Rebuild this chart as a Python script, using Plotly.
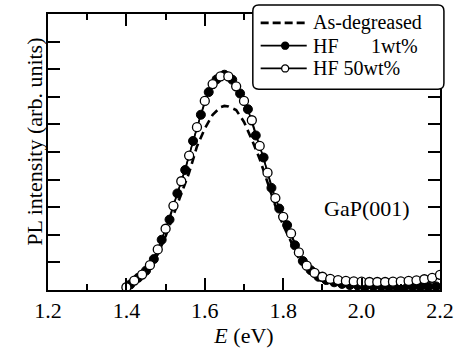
import plotly.graph_objects as go

# Energies (eV)
E_filled = [1.41, 1.43, 1.45, 1.47, 1.49, 1.51, 1.53, 1.55, 1.57, 1.59,
            1.61, 1.63, 1.65, 1.67, 1.69, 1.71, 1.73, 1.75, 1.77, 1.79,
            1.81, 1.83, 1.85, 1.87, 1.89, 1.91, 1.93, 1.95, 1.97, 1.99,
            2.01, 2.03, 2.05, 2.07, 2.09, 2.11, 2.13, 2.15, 2.17, 2.19]
HF_1wt = [0.20, 0.44, 0.70, 1.12, 1.82, 2.55, 3.50, 4.35, 5.40, 6.35,
          7.17, 7.63, 7.80, 7.62, 7.12, 6.55, 5.60, 4.80, 3.70, 2.95,
          2.35, 1.62, 1.05, 0.72, 0.48, 0.36, 0.28, 0.22, 0.18, 0.16,
          0.14, 0.13, 0.13, 0.12, 0.12, 0.12, 0.12, 0.12, 0.12, 0.13]

E_open = [1.40, 1.42, 1.44, 1.46, 1.48, 1.50, 1.52, 1.54, 1.56, 1.58,
          1.60, 1.62, 1.64, 1.66, 1.68, 1.70, 1.72, 1.74, 1.76, 1.78,
          1.80, 1.82, 1.84, 1.86, 1.88, 1.90, 1.92, 1.94, 1.96, 1.98,
          2.00, 2.02, 2.04, 2.06, 2.08, 2.10, 2.12, 2.14, 2.16, 2.18, 2.20]
HF_50wt = [0.10, 0.34, 0.56, 0.90, 1.47, 2.22, 3.05, 3.94, 4.87, 5.90,
           6.85, 7.46, 7.74, 7.74, 7.38, 6.85, 6.15, 5.22, 4.25, 3.33,
           2.65, 2.05, 1.36, 0.88, 0.62, 0.48, 0.40, 0.36, 0.33, 0.31,
           0.30, 0.29, 0.29, 0.29, 0.30, 0.31, 0.33, 0.35, 0.39, 0.44, 0.55]

E_asd = [1.40, 1.42, 1.44, 1.46, 1.48, 1.50, 1.52, 1.54, 1.56, 1.58,
         1.60, 1.62, 1.64, 1.65, 1.66, 1.68, 1.70, 1.72, 1.74, 1.76,
         1.78, 1.80, 1.82, 1.84, 1.86, 1.88, 1.90, 1.95, 2.00, 2.10, 2.20]
As_degreased = [0.10, 0.30, 0.50, 0.80, 1.30, 1.95, 2.70, 3.45, 4.25, 5.20,
                5.85, 6.35, 6.62, 6.67, 6.65, 6.52, 6.09, 5.45, 4.75, 3.90,
                3.05, 2.35, 1.75, 1.15, 0.75, 0.48, 0.33, 0.18, 0.12, 0.10, 0.10]

x_ticks = [1.2, 1.4, 1.6, 1.8, 2.0, 2.2]
x_ticklabels = ["1.2", "1.4", "1.6", "1.8", "2.0", "2.2"]
legend_names = ["As-degreased", "HF", "1wt%", "HF 50wt%"]

FONT = "Liberation Serif, Times New Roman, serif"
FS = 22
LFS = 20

W, H = 466, 351
ML, MR, MT, MB = 48, 18, 14, 58
PW, PH = W - ML - MR, H - MT - MB


def px(x):
    return (x - ML) / PW


def py(y):
    return (H - MB - y) / PH


fig = go.Figure()
fig.add_trace(go.Scatter(
    x=E_asd, y=As_degreased, mode="lines", name="As-degreased",
    line=dict(color="black", width=2.6, dash="8px,5px")))
fig.add_trace(go.Scatter(
    x=E_filled, y=HF_1wt, mode="lines+markers", name="HF 1wt%",
    line=dict(color="black", width=1.5),
    marker=dict(symbol="circle", size=9, color="black",
                line=dict(color="black", width=1))))
fig.add_trace(go.Scatter(
    x=E_open, y=HF_50wt, mode="lines+markers", name="HF 50wt%",
    line=dict(color="black", width=1.5),
    marker=dict(symbol="circle", size=9, color="white",
                line=dict(color="black", width=1.3))))

fig.add_annotation(x=2.015, y=2.97, text="GaP(001)", showarrow=False,
                   font=dict(family=FONT, size=FS, color="black"))

# y-axis title
fig.add_annotation(xref="paper", yref="paper", x=px(20), y=py(143),
                   text="PL intensity (arb. units)", textangle=-90, showarrow=False,
                   font=dict(family=FONT, size=FS, color="black"))

# ---- hand-made legend (rounded box) ----
bx0, bx1, by0, by1, r = 257, 452, 5, 90, 6
path = (f"M {px(bx0 + r)},{py(by0)} L {px(bx1 - r)},{py(by0)} "
        f"Q {px(bx1)},{py(by0)} {px(bx1)},{py(by0 + r)} "
        f"L {px(bx1)},{py(by1 - r)} Q {px(bx1)},{py(by1)} {px(bx1 - r)},{py(by1)} "
        f"L {px(bx0 + r)},{py(by1)} Q {px(bx0)},{py(by1)} {px(bx0)},{py(by1 - r)} "
        f"L {px(bx0)},{py(by0 + r)} Q {px(bx0)},{py(by0)} {px(bx0 + r)},{py(by0)} Z")
fig.add_shape(type="path", path=path, xref="paper", yref="paper",
              fillcolor="white", line=dict(color="black", width=1.5), layer="above")

rows = [23, 46, 69]
lx0, lx1, mx = 265, 312, 290
fig.add_shape(type="line", xref="paper", yref="paper", x0=px(lx0), x1=px(lx1),
              y0=py(rows[0]), y1=py(rows[0]), line=dict(color="black", width=2.6, dash="8px,4px"),
              layer="above")
for i, fill in ((1, "black"), (2, "white")):
    fig.add_shape(type="line", xref="paper", yref="paper", x0=px(lx0), x1=px(lx1),
                  y0=py(rows[i]), y1=py(rows[i]), line=dict(color="black", width=1.8),
                  layer="above")
    rr = 3.6
    fig.add_shape(type="circle", xref="paper", yref="paper",
                  x0=px(mx - rr), x1=px(mx + rr), y0=py(rows[i] + rr), y1=py(rows[i] - rr),
                  fillcolor=fill, line=dict(color="black", width=1.3), layer="above")

leg_font = dict(family=FONT, size=LFS, color="black")
fig.add_annotation(xref="paper", yref="paper", x=px(317), y=py(rows[0]), text=legend_names[0],
                   xanchor="left", yanchor="middle", showarrow=False, borderpad=0, font=leg_font)
fig.add_annotation(xref="paper", yref="paper", x=px(317), y=py(rows[1]), text=legend_names[1],
                   xanchor="left", yanchor="middle", showarrow=False, borderpad=0, font=leg_font)
fig.add_annotation(xref="paper", yref="paper", x=px(427), y=py(rows[1]), text=legend_names[2],
                   xanchor="right", yanchor="middle", showarrow=False, borderpad=0, font=leg_font)
fig.add_annotation(xref="paper", yref="paper", x=px(317), y=py(rows[2]), text=legend_names[3],
                   xanchor="left", yanchor="middle", showarrow=False, borderpad=0, font=leg_font)

fig.update_layout(
    width=W, height=H,
    margin=dict(l=ML, r=MR, t=MT, b=MB),
    paper_bgcolor="white", plot_bgcolor="white",
    font=dict(family=FONT, size=FS, color="black"),
    showlegend=False,
)
fig.update_xaxes(
    range=[1.2, 2.2], tickmode="array", tickvals=x_ticks, ticktext=x_ticklabels,
    ticks="inside", ticklen=12, tickwidth=1.5, tickcolor="black",
    minor=dict(ticks="inside", ticklen=6, tickwidth=1.5, tickcolor="black", dtick=0.1, showgrid=False),
    showline=True, linewidth=2, linecolor="black", mirror="ticks",
    showgrid=False, zeroline=False,
    tickfont=dict(family=FONT, size=FS),
    title=dict(text="<i>E</i> (eV)", font=dict(family=FONT, size=FS), standoff=0),
)
fig.update_yaxes(
    range=[0, 10], dtick=1, tick0=0,
    ticks="inside", ticklen=12, tickwidth=1.5, tickcolor="black",
    showticklabels=False,
    showline=True, linewidth=2, linecolor="black", mirror="ticks",
    showgrid=False, zeroline=False,
)

fig.write_html("out.html", config={"displayModeBar": False},
               post_script="document.body.style.margin='0px';document.body.style.overflow='hidden';")
